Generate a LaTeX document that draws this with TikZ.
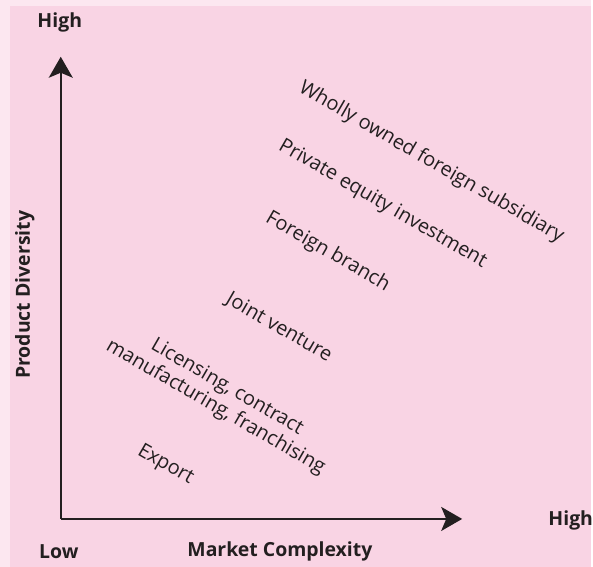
\documentclass[tikz,border=0pt]{standalone}
\usepackage{fontspec}
\setmainfont{Open Sans}
\usetikzlibrary{arrows.meta}

\definecolor{panelpink}{RGB}{249,212,228}
\definecolor{edgepink}{RGB}{252,231,240}
\definecolor{inkgrey}{RGB}{35,31,32}

\begin{document}
\begin{tikzpicture}[%
    x=1pt, y=-1pt,
    axis/.style={%
        draw=inkgrey,
        line width=2.4pt,
        -{Stealth[length=21pt,width=24pt,inset=5pt]},
    },
    axislabel/.style={%
        text=inkgrey,
        font=\fontsize{19.5}{23}\selectfont\bfseries,
        inner sep=0pt,
    },
    mode/.style={%
        text=inkgrey,
        font=\fontsize{20}{23}\selectfont,
        rotate=-30,
        align=center,
        inner sep=0pt,
    }
]
% 背景
\fill[edgepink] (0,0) rectangle (593,569);
\fill[panelpink] (10,6) rectangle (593,569);

% 坐标轴
\coordinate (origin) at (61,521);
\coordinate (ytip) at (61,57);
\coordinate (xtip) at (464,521);
\draw[axis] (origin) -- (ytip);
\draw[axis] (origin) -- (xtip);

% 轴标签
\node[axislabel] (ymax) at (60,23) {High};
\node[axislabel] (xmin) at (59,554) {Low};
\node[axislabel] (xmax) at (573,523) {High};
\node[axislabel] (xname) at (281,554) {Market Complexity};
\node[axislabel,rotate=90] (yname) at (25,296) {Product Diversity};

% 进入方式
\node[mode] (wholly) at (433,163) {Wholly owned foreign subsidiary};
\node[mode] (equity) at (384,205) {Private equity investment};
\node[mode] (branch) at (329,253) {Foreign branch};
\node[mode] (joint) at (280,329) {Joint venture};
\node[mode] (licensing) at (222,399) {Licensing, contract\\manufacturing, franchising};
\node[mode] (export) at (166,467) {Export};

\end{tikzpicture}
\end{document}
